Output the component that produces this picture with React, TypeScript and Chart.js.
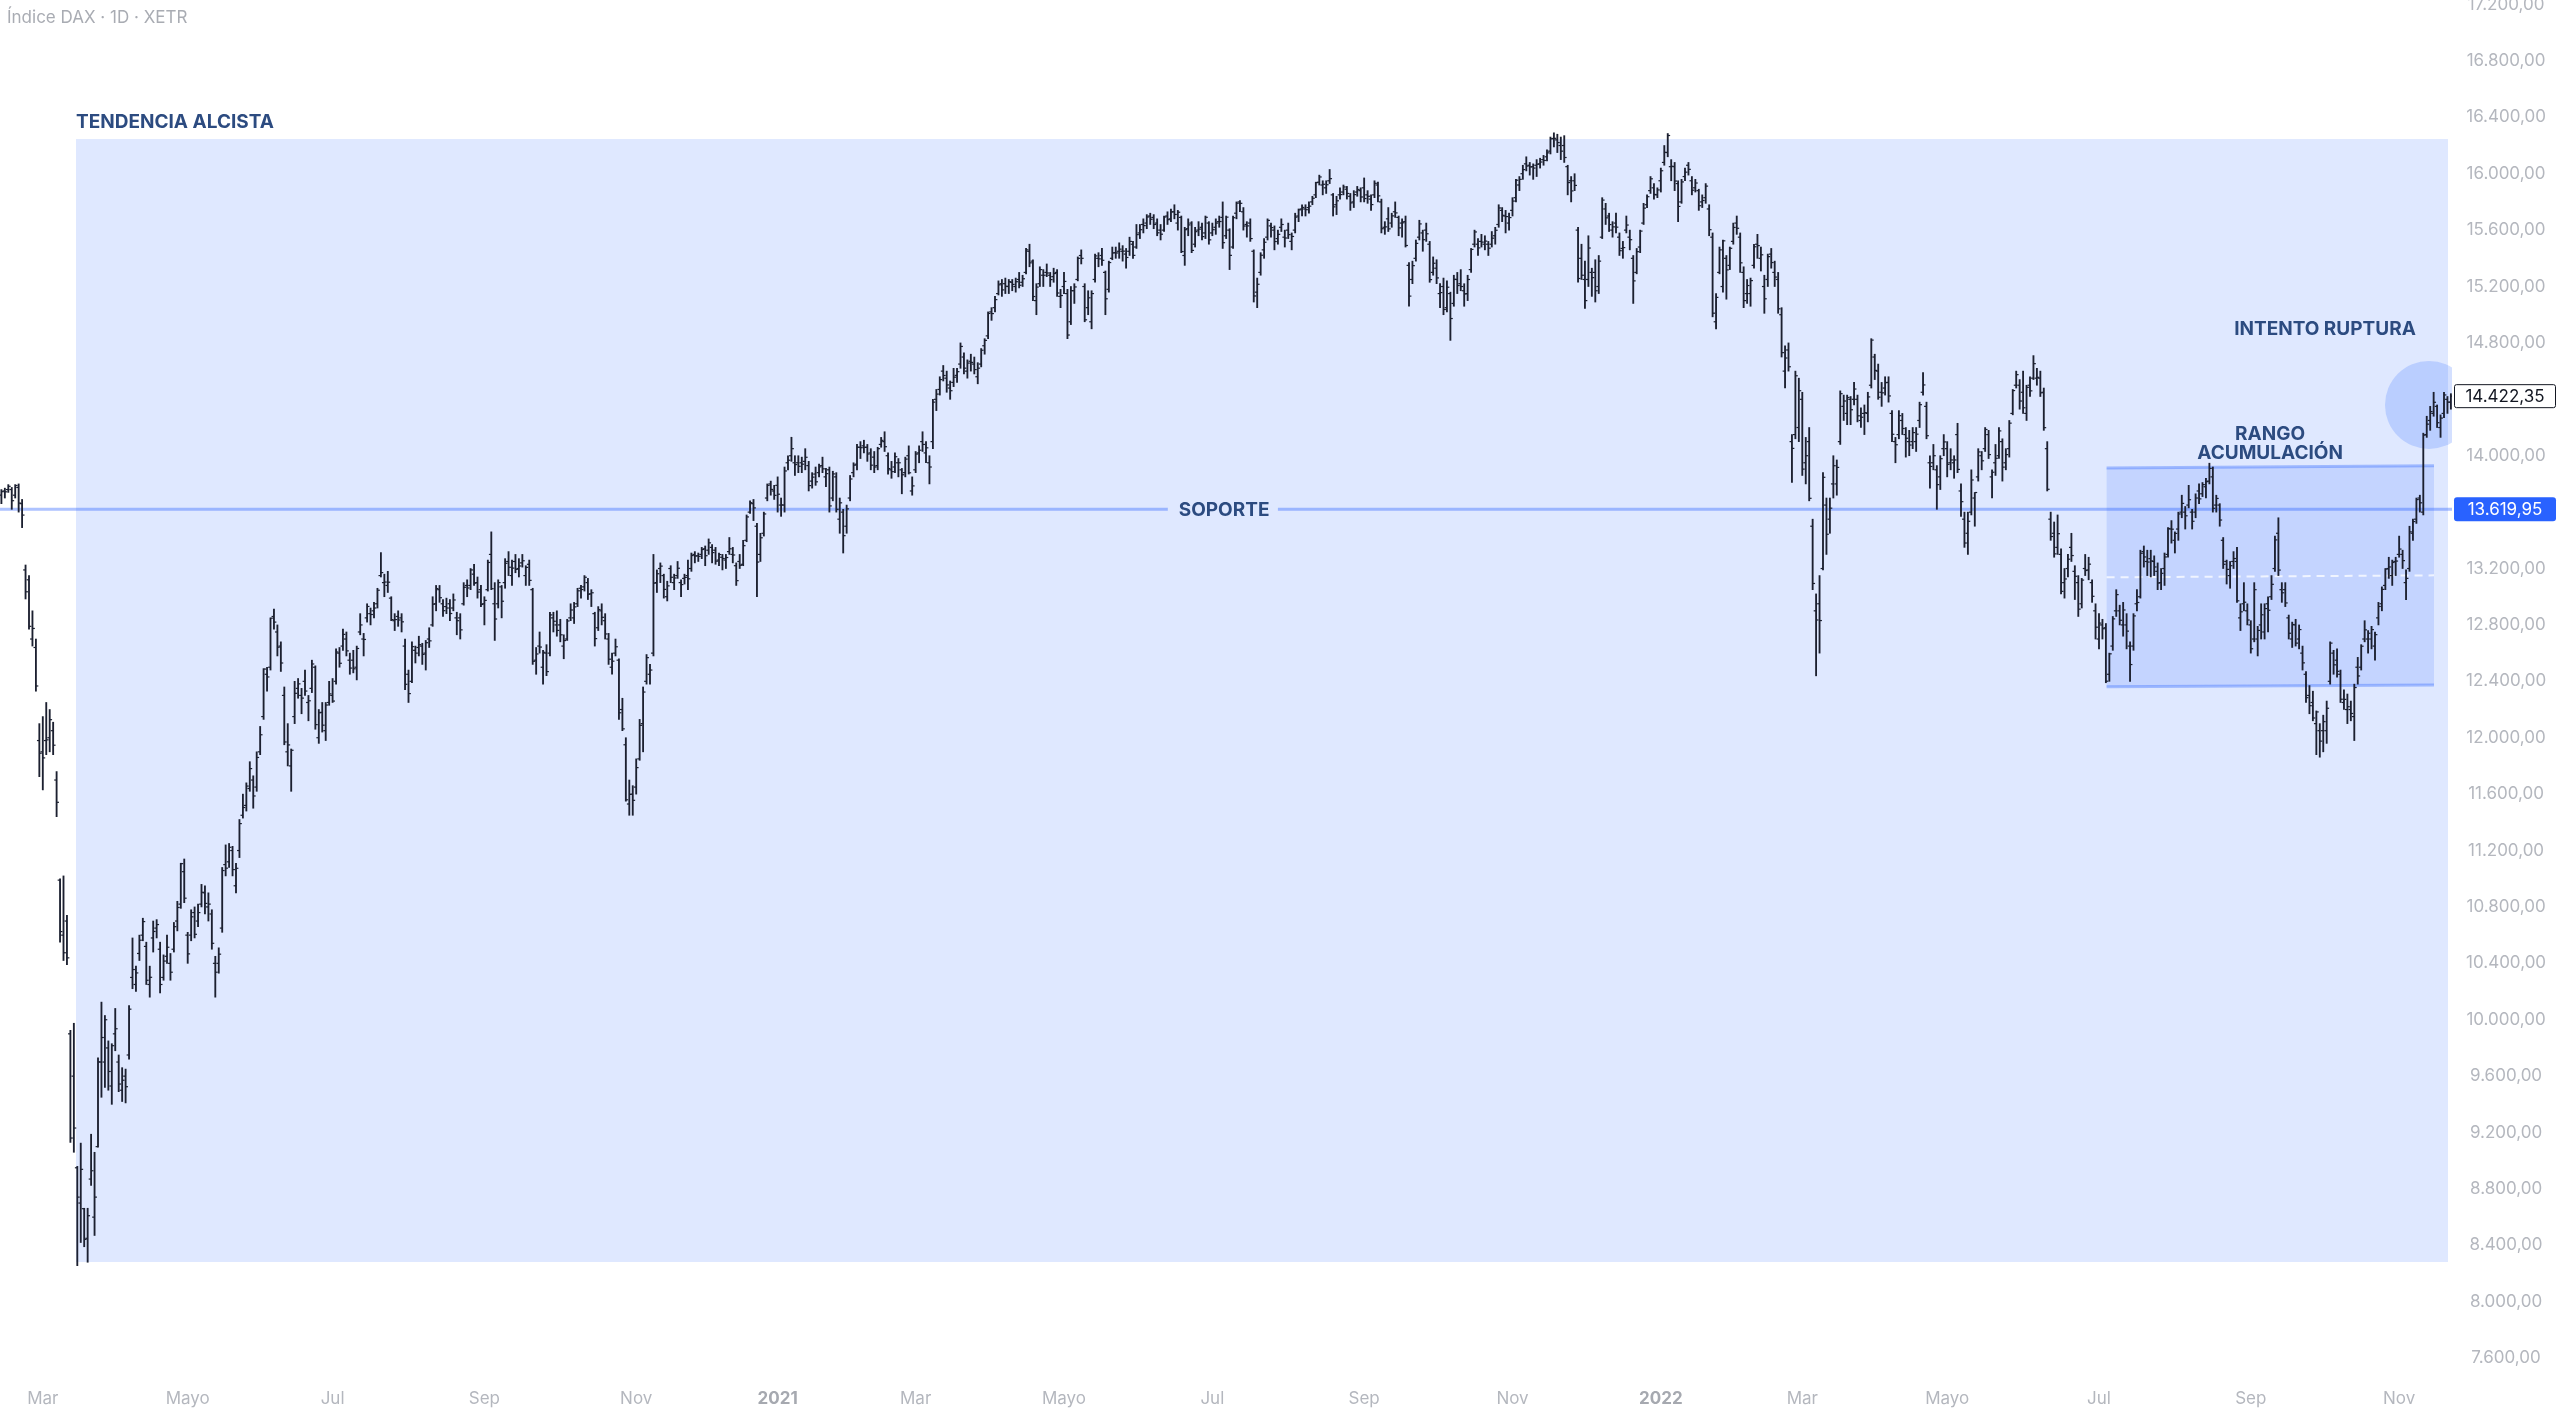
import React, { useEffect, useRef } from 'react';
import { Chart, registerables } from 'chart.js';

Chart.register(...registerables);

// ---------- DATA (DAX daily, Feb 13 2020 – Nov 22 2022) ----------
const o20 = [
  13720,13750,13760,13760,13720,13775,13660,13190,13120,12700,12640,11980,
  11900,11980,12000,12050,11700,10990,10600,10700,9900,9600,8950,8700,8660,8450,8870,8600,9100,9700,9700,9800,9530,9900,
  9700,9500,9600,9750,10300,10250,10470,10600,10520,10250,10580,10650,10500,10300,10450,10400,10500,10700,10820,11050,
  10600,10600,10760,10700,10820,10900,10800,10750,10400,10400,10650,11100,11120,11200,10950,11200,11450,11520,11640,11700,
  11650,11900,12150,12450,12500,12860,12750,12650,12300,11900,11800,12150,12350,12300,12400,12250,12350,12500,12000,12180,12050,12250,
  12300,12400,12600,12650,12700,12550,12550,12500,12750,12700,12850,12880,12900,12950,13150,13100,13080,12990,12830,12860,12850,12650,12450,
  12400,12620,12640,12650,12600,12700,12800,12950,13050,12950,12930,12950,12920,12850,12850,12950,13080,13080,13160,13100,13050,
  12950,13050,13300,12950,12950,13070,13100,13250,13150,13250,13200,13240,13150,13230,13050,12550,12650,12500,12600,12600,12850,12800,
  12800,12650,12700,12850,12850,12950,13060,13070,13100,13020,12880,12780,12900,12830,12700,12500,12600,12550,12200,11950,11530,11600,
  11650,11850,12100,12400,12450,12600,13100,13200,13150,13000,13200,13100,13150,13100,13130,13150,13200,13300,13290,13300,13340,
  13330,13350,13330,13260,13280,13260,13320,13300,13220,13250,13230,13400,13600,13660,13500,13300,13450,13700,13800,13750,
];
const h20 = [
  13760,13770,13795,13775,13795,13800,13690,13225,13150,12900,12700,12100,
  12150,12250,12200,12110,11760,11000,11020,10740,9925,9975,8960,9125,8663,8663,9188,9060,9730,10125,10030,9850,9830,10080,
  9750,9660,9650,10100,10580,10380,10600,10720,10550,10380,10700,10710,10550,10460,10600,10470,10690,10840,11110,11140,
  10620,10780,10800,10820,10960,10950,10900,10780,10450,10510,11080,11240,11250,11230,11110,11420,11600,11680,11830,11730,
  11900,12080,12490,12500,12850,12913,12800,12680,12360,12100,11920,12400,12420,12350,12480,12300,12550,12510,12200,12250,12250,12400,
  12420,12630,12640,12770,12750,12600,12620,12650,12880,12740,12950,12920,12960,13060,13313,13160,13180,13000,12880,12900,12880,12700,12480,
  12680,12650,12720,12670,12690,12780,13000,13080,13080,12980,12990,12980,13020,12890,12880,13100,13120,13200,13230,13140,13080,
  13000,13260,13460,13100,13120,13080,13270,13320,13260,13300,13270,13300,13220,13260,13060,12640,12750,12620,12660,12890,12890,12900,
  12840,12730,12840,12950,12960,13060,13080,13150,13130,13050,12890,12930,12950,12880,12740,12600,12700,12560,12280,12000,11700,11660,
  11850,12130,12360,12590,12520,13300,13190,13240,13160,13110,13220,13160,13250,13120,13160,13260,13310,13320,13310,13350,13360,
  13410,13370,13350,13310,13300,13300,13420,13350,13240,13300,13400,13580,13680,13690,13520,13450,13600,13800,13820,13790,
];
const l20 = [
  13660,13700,13740,13620,13700,13600,13490,12984,12770,12650,12330,11724,
  11630,11880,11900,11880,11440,10550,10420,10390,9130,9060,8256,8420,8390,8280,8825,8470,9097,9450,9520,9500,9400,9780,
  9490,9420,9410,9720,10220,10200,10420,10560,10250,10160,10480,10580,10190,10280,10400,10280,10480,10630,10790,10830,
  10400,10560,10580,10660,10800,10750,10700,10500,10160,10330,10620,11020,11080,11020,10900,11150,11430,11480,11620,11500,
  11620,11880,12130,12330,12480,12770,12580,12470,11950,11800,11620,12100,12280,12170,12300,12120,12320,12060,11960,12040,11980,12230,
  12250,12380,12500,12620,12580,12450,12460,12410,12730,12580,12820,12800,12850,12920,13140,13000,13030,12830,12760,12790,12750,12340,12250,
  12390,12530,12580,12520,12480,12640,12790,12900,12960,12860,12880,12830,12900,12730,12700,12940,13000,13050,13080,12990,12930,
  12800,13040,13050,12690,12920,12850,13060,13150,13080,13170,13140,13210,13080,13080,12520,12450,12600,12380,12440,12580,12750,12720,
  12680,12560,12690,12830,12810,12930,12990,13040,12980,12930,12650,12760,12800,12700,12520,12450,12580,12130,12050,11550,11450,11450,
  11600,11840,11900,12380,12380,12580,13030,13100,12990,12970,13100,13050,13130,13000,13090,13050,13180,13240,13250,13270,13220,
  13300,13240,13230,13220,13190,13200,13300,13240,13080,13200,13220,13390,13590,13540,13000,13250,13430,13680,13720,13690,
];
const c20 = [
  13745,13744,13783,13681,13789,13664,13579,13035,12790,12775,12367,11890,
  11857,11985,12128,11947,11542,10625,10475,10439,9161,9232,8742,8939,8442,8610,8929,8742,9701,9874,10000,9633,9816,9936,
  9544,9571,9525,10075,10356,10332,10564,10696,10280,10301,10626,10675,10250,10416,10514,10337,10660,10796,11107,10862,
  10467,10730,10606,10760,10904,10825,10820,10542,10337,10465,11058,11075,11223,11065,11074,11391,11505,11657,11781,11587,
  11860,12021,12487,12431,12848,12820,12642,12530,11970,11949,11911,12315,12382,12281,12331,12262,12523,12093,12177,12089,12232,12311,
  12260,12608,12528,12733,12616,12494,12489,12633,12800,12697,12931,12874,12920,13046,13171,13104,13103,12838,12838,12835,12822,12379,12313,
  12646,12600,12660,12591,12674,12687,12947,13058,12993,12901,12920,12881,12977,12830,12765,13067,13062,13190,13096,13033,12945,
  12974,13243,13057,12842,13100,12968,13237,13209,13203,13194,13218,13255,13208,13116,12542,12594,12643,12606,12469,12871,12826,12761,
  12730,12689,12828,12906,12928,13042,13051,13138,13018,13028,12703,12909,12854,12736,12557,12543,12645,12177,12063,11560,11598,11556,
  11788,12088,12324,12568,12480,13096,13163,13217,13052,13077,13138,13133,13202,13086,13137,13127,13292,13289,13286,13335,13291,
  13382,13313,13252,13299,13271,13278,13340,13296,13114,13223,13362,13566,13667,13630,13246,13418,13587,13790,13761,13719,
];

const o21 = [
  13790,13650,13650,13950,14000,13950,13950,13950,13960,13930,13820,13870,13880,13930,13850,13900,13700,13850,13550,13600,
  13500,13700,13880,13940,14060,14070,14060,14020,13990,13930,14080,14100,14000,13900,13920,13950,13900,13880,14000,13750,
  13900,14020,14100,14020,13950,14100,14400,14470,14600,14550,14480,14520,14570,14650,14700,14600,14670,14650,14560,14650,14780,14850,15020,
  15050,15150,15220,15220,15200,15230,15200,15250,15230,15300,15450,15380,15100,15220,15280,15300,15280,15270,15300,15130,
  15200,15150,14950,15170,15250,15420,15200,15050,14950,15250,15400,15420,15300,15180,15400,15440,15450,15450,15430,15450,15500,
  15480,15580,15640,15650,15700,15690,15650,15600,15600,15700,15680,15730,15650,15690,15420,15610,15650,15500,15600,15620,15580,15650,
  15580,15620,15660,15690,15560,15600,15480,15720,15800,15730,15640,15650,15450,15160,15300,15460,15550,15630,15600,15540,15620,15550,
  15600,15520,15600,15700,15750,15750,15760,15800,15850,15940,15920,15900,15950,15850,15780,15850,15870,15890,15840,15800,15870,15880,
  15900,15850,15820,15850,15920,15800,15620,15680,15650,15730,15690,15650,15660,15350,15250,15400,15550,15580,15600,15500,15300,15330,
  15150,15200,15050,15150,15080,15250,15220,15170,15150,15320,15500,15500,15520,15500,15500,15500,15560,15640,15740,15700,15650,
  15740,15830,15920,16000,16070,16060,16050,16060,16070,16100,16120,16160,16250,16240,16200,16200,16050,15950,15950,15600,15400,15250,
  15250,15300,15300,15200,15550,15750,15700,15600,15650,15550,15470,15600,15550,15400,15300,15480,15650,15780,15880,15900,15850,
];
const h21 = [
  13850,13700,13920,14000,14131,14000,14000,13990,14050,13960,13880,13920,13940,13990,13910,13920,13890,13880,13700,13620,
  13650,13860,13950,14080,14100,14110,14080,14050,14030,14060,14130,14170,14020,13960,14020,13980,13910,13990,14070,13850,
  14030,14070,14170,14100,14000,14400,14470,14560,14640,14600,14530,14620,14620,14800,14730,14680,14720,14700,14660,14760,14830,15020,15050,
  15130,15240,15250,15260,15250,15250,15260,15300,15280,15470,15500,15390,15220,15340,15320,15360,15300,15330,15320,15180,
  15300,15180,15200,15220,15410,15460,15220,15170,15170,15430,15440,15470,15310,15380,15480,15480,15510,15490,15470,15550,15520,
  15640,15640,15680,15710,15720,15710,15680,15640,15700,15730,15750,15780,15740,15700,15620,15680,15660,15620,15660,15650,15700,15660,
  15650,15680,15700,15800,15700,15610,15700,15800,15810,15760,15660,15680,15460,15260,15440,15540,15680,15650,15630,15600,15680,15600,
  15650,15580,15720,15750,15780,15780,15800,15840,15940,15990,15950,15950,16030,15860,15840,15900,15920,15910,15860,15880,15910,15900,
  15970,15880,15850,15950,15940,15820,15660,15760,15720,15800,15700,15680,15700,15370,15380,15530,15670,15600,15650,15520,15410,15390,
  15220,15260,15240,15160,15280,15300,15320,15220,15280,15470,15600,15540,15570,15560,15520,15590,15620,15780,15760,15740,15720,
  15830,15960,15980,16060,16120,16080,16070,16100,16110,16130,16170,16260,16290,16280,16260,16270,16060,15980,16000,15620,15500,15380,
  15560,15330,15390,15420,15830,15790,15720,15660,15720,15580,15520,15700,15600,15420,15470,15600,15790,15850,15980,15930,15900,
];
const l21 = [
  13600,13570,13600,13900,13960,13860,13880,13880,13900,13750,13770,13790,13850,13880,13780,13600,13680,13600,13450,13310,
  13450,13680,13850,13900,13980,14020,13960,13900,13880,13900,14060,14030,13870,13840,13880,13850,13730,13850,13870,13720,
  13880,13950,14030,13950,13800,14050,14320,14430,14530,14450,14400,14490,14520,14620,14580,14550,14600,14580,14510,14630,14720,14830,14960,
  15020,15140,15130,15150,15150,15170,15160,15190,15200,15290,15340,15100,15000,15200,15200,15270,15200,15230,15130,15050,
  15150,14830,14930,15080,15240,15360,14950,15000,14900,15230,15340,15350,15000,15160,15390,15400,15400,15380,15330,15420,15400,
  15470,15540,15580,15610,15640,15610,15560,15530,15590,15640,15660,15680,15600,15440,15350,15560,15440,15480,15560,15530,15540,15500,
  15560,15570,15620,15470,15540,15320,15470,15680,15730,15600,15550,15520,15090,15050,15280,15400,15530,15550,15460,15500,15590,15480,
  15540,15460,15580,15660,15700,15700,15720,15780,15830,15920,15850,15860,15930,15700,15710,15820,15850,15820,15740,15760,15840,15800,
  15800,15790,15740,15830,15800,15580,15570,15590,15620,15690,15560,15550,15480,15060,15220,15380,15530,15450,15520,15230,15280,15220,
  15050,15000,15020,14818,15060,15150,15170,15060,15100,15300,15480,15420,15480,15460,15420,15480,15500,15620,15660,15580,15600,
  15700,15800,15880,15960,16020,15990,15960,15980,16040,16060,16090,16140,16190,16150,16100,16080,15850,15800,15880,15230,15250,15045,
  15200,15130,15090,15150,15540,15640,15590,15550,15580,15420,15400,15580,15460,15080,15290,15440,15640,15760,15860,15820,15830,
];
const c21 = [
  13727,13651,13892,13968,14050,13937,13925,13940,13989,13788,13848,13815,13921,13907,13873,13644,13871,13620,13666,13433,
  13623,13835,13933,14060,14057,14059,14012,13933,13920,14050,14109,14064,13909,13887,13993,13950,13865,13976,13879,13786,
  14012,14039,14080,14056,13920,14380,14437,14540,14569,14502,14461,14557,14596,14775,14621,14657,14662,14611,14621,14748,14818,15009,15008,
  15107,15212,15176,15202,15234,15215,15234,15209,15255,15460,15368,15129,15196,15320,15280,15296,15249,15292,15154,15136,
  15236,14856,15171,15197,15400,15400,14964,15120,15150,15417,15396,15386,15113,15370,15438,15438,15465,15451,15406,15520,15421,
  15568,15603,15632,15693,15677,15640,15581,15571,15693,15674,15729,15711,15727,15448,15603,15637,15456,15589,15607,15554,15691,15531,
  15603,15650,15661,15511,15692,15421,15688,15791,15790,15629,15630,15540,15133,15216,15422,15514,15669,15618,15519,15570,15640,15544,
  15568,15555,15692,15744,15761,15745,15770,15826,15937,15977,15925,15922,15965,15765,15808,15852,15906,15860,15793,15852,15888,15835,
  15824,15840,15781,15932,15843,15610,15623,15609,15701,15722,15616,15652,15491,15132,15348,15506,15644,15532,15574,15249,15365,15261,
  15157,15037,15195,14973,15251,15207,15200,15147,15250,15463,15587,15474,15515,15522,15472,15543,15599,15757,15705,15696,15689,
  15806,15954,15960,16029,16054,16048,16040,16067,16083,16094,16148,16247,16251,16221,16160,16115,15937,15878,15917,15257,15280,15100,
  15473,15263,15170,15380,15813,15687,15639,15623,15621,15454,15476,15636,15532,15240,15447,15593,15756,15837,15964,15853,15885,
];

const o22 = [
  15950,16080,16150,16050,16050,15930,15800,15980,16060,15950,15900,15880,15800,15830,15750,15550,14950,15300,15200,15400,15350,
  15520,15650,15550,15300,15150,15150,15350,15500,15400,15200,15250,15430,15300,15250,15000,14600,14750,14100,14150,14200,
  14400,13950,14100,13500,12900,12950,13200,13650,13550,13800,13800,14100,14350,14300,14400,14400,14400,14250,14300,14300,14500,14700,14600,
  14450,14480,14520,14300,14100,14150,14250,14150,14100,14100,14100,14250,14450,14350,13950,13950,13900,13850,14050,
  14050,13950,13950,14150,13750,13550,13450,13600,13700,13850,14000,14050,14150,13850,13950,14000,14100,13950,14050,14300,14500,14500,
  14450,14300,14500,14550,14550,14550,14450,14050,13550,13450,13350,13300,13100,13200,13350,13180,13100,12950,13200,13190,13100,12900,
  12700,12800,12780,12450,12650,12900,12900,12800,12800,12650,12650,12950,13000,13320,13250,13270,13250,13180,13100,13200,13300,
  13480,13400,13480,13600,13600,13650,13600,13600,13750,13730,13780,13820,13850,13650,13650,13400,13250,13150,13250,13250,12850,12950,12900,
  12800,12700,12700,12800,12750,12950,13000,13200,13450,13050,13050,12850,12700,12800,12700,12600,12450,12300,12250,12100,12050,12050,
  12050,12400,12600,12550,12450,12250,12200,12200,12150,12500,12500,12700,12700,12700,12650,12850,12950,13080,13200,13150,13250,
  13300,13300,13100,13200,13450,13550,13700,13600,14150,14250,14300,14350,14200,14300,14400,14380,
];
const h22 = [
  16040,16200,16285,16100,16080,15950,15960,16040,16080,15980,15960,15890,15850,15930,15780,15580,15150,15480,15530,15420,15480,
  15650,15700,15580,15340,15250,15260,15500,15570,15480,15280,15430,15470,15380,15300,15050,14780,14800,14150,14600,14550,
  14450,14130,14200,13550,13020,13150,13880,13700,13700,14000,13970,14460,14430,14430,14420,14520,14430,14340,14360,14450,14830,14720,14650,
  14520,14560,14560,14320,14130,14320,14300,14200,14180,14200,14200,14380,14590,14380,14000,14080,13930,14000,14150,
  14100,14050,14000,14230,13800,13600,13600,13900,13720,14050,14030,14200,14180,13900,14080,14200,14120,14050,14250,14470,14600,14540,
  14600,14500,14560,14710,14620,14600,14480,14100,13600,13530,13580,13340,13200,13300,13450,13220,13150,13130,13300,13280,13120,12950,
  12880,12840,12810,12600,12860,13050,12940,12960,12880,12680,12880,13050,13330,13360,13330,13330,13290,13240,13200,13310,13490,
  13540,13460,13600,13720,13640,13790,13620,13730,13800,13810,13840,13947,13920,13720,13660,13420,13260,13250,13320,13350,12950,13100,12950,
  12830,13100,12790,12950,12950,13000,13150,13430,13560,13100,13100,12870,12820,12840,12800,12650,12470,12370,12330,12190,12100,12160,
  12260,12680,12620,12630,12480,12340,12310,12260,12380,12570,12660,12830,12760,12790,12750,12960,13070,13200,13280,13260,13280,
  13430,13330,13190,13500,13550,13700,13720,14160,14280,14350,14450,14360,14290,14450,14420,14440,
];
const l22 = [
  15870,16060,16120,15950,15880,15660,15790,15950,15990,15850,15870,15740,15760,15790,15560,14985,14900,15290,15160,15110,15320,
  15500,15570,15300,15050,15080,15060,15330,15400,15310,15010,15200,15330,15200,15010,14700,14480,14600,13810,14120,14100,
  13860,13800,13680,13050,12439,12600,13190,13300,13450,13700,13720,14080,14250,14220,14220,14360,14240,14200,14150,14240,14480,14540,14400,
  14350,14430,14380,14100,13950,14120,14150,13990,14000,14050,14030,14200,14430,14120,13770,13900,13620,13760,14000,
  13850,13900,13840,13880,13570,13350,13300,13580,13500,13820,13900,14030,13980,13700,13860,13980,13820,13900,13990,14290,14480,14330,
  14300,14250,14420,14540,14500,14420,14180,13750,13400,13280,13300,13020,12990,13140,13250,12980,12860,12920,13150,13120,12960,12700,
  12630,12700,12390,12400,12620,12860,12800,12720,12630,12400,12620,12900,12990,13210,13150,13140,13150,13050,13050,13080,13280,
  13380,13310,13400,13560,13480,13630,13480,13560,13660,13710,13700,13800,13600,13600,13500,13200,13090,13060,13200,12960,12760,12900,12800,
  12600,12680,12580,12700,12700,12750,12980,13180,13150,12960,12930,12700,12640,12650,12630,12480,12250,12170,12120,11880,11862,11900,
  11960,12380,12450,12430,12250,12200,12100,12120,11980,12380,12480,12680,12600,12630,12550,12800,12900,13050,13130,13080,13150,
  13280,13200,12980,13180,13400,13520,13600,13580,14130,14180,14280,14200,14130,14270,14300,14330,
];
const c22 = [
  16021,16152,16271,16053,15948,15768,15942,16011,16031,15883,15934,15773,15810,15912,15603,15011,15123,15460,15524,15318,15471,
  15619,15613,15368,15100,15207,15242,15482,15490,15425,15113,15412,15370,15267,15042,14731,14693,14631,14052,14567,14461,
  13905,14000,13698,13094,12835,12831,13847,13443,13628,13929,13917,14440,14388,14413,14326,14473,14283,14273,14306,14417,14820,14605,14415,
  14446,14518,14424,14152,14078,14284,14193,14124,14076,14164,14153,14362,14502,14142,13924,14000,13795,13979,14098,
  13939,13970,13970,13903,13674,13381,13535,13828,13739,14027,13964,14186,14008,13883,13982,14176,13919,14008,14231,14462,14575,14388,
  14340,14485,14460,14653,14556,14446,14199,13762,13427,13304,13447,13038,13126,13266,13292,13145,12912,13118,13186,13231,13003,12784,
  12813,12773,12401,12595,12843,13015,12833,12906,12756,12519,12864,12959,13308,13282,13246,13254,13211,13097,13166,13282,13484,
  13479,13449,13587,13662,13574,13688,13535,13700,13694,13795,13816,13910,13627,13697,13544,13230,13194,13220,13271,12971,12893,12961,12835,
  12631,13050,12761,12872,12916,12904,13088,13403,13189,13028,12956,12741,12803,12671,12767,12531,12284,12227,12140,12183,11976,12114,
  12209,12671,12517,12471,12273,12272,12220,12172,12356,12438,12649,12765,12741,12767,12731,12931,13052,13196,13211,13243,13253,
  13338,13256,13130,13460,13533,13689,13666,14146,14224,14313,14379,14234,14267,14431,14380,14422.35,
];

// x-axis: bar index of the first session of each labelled month
const monthTickIndex = [12, 54, 96, 140, 184, 225, 265, 308, 351, 395, 438, 481, 522, 564, 608, 652, 695];
const monthTickLabels = ['Mar', 'Mayo', 'Jul', 'Sep', 'Nov', '2021', 'Mar', 'Mayo', 'Jul', 'Sep', 'Nov', '2022', 'Mar', 'Mayo', 'Jul', 'Sep', 'Nov'];
const priceTicks = [7600, 8000, 8400, 8800, 9200, 9600, 10000, 10400, 10800, 11200, 11600, 12000, 12400, 12800, 13200, 13600, 14000, 14400, 14800, 15200, 15600, 16000, 16400, 16800, 17200];

// drawings (in bar-index / price units)
const supportPrice = 13619.95;
const lastPrice = 14422.35;
const trendZone = { x0: 21.62, x1: 709.16, top: 16246, bottom: 8282 };
const rangeChannel = { x0: 610.2, x1: 705.1, top0: 13913, top1: 13929, bot0: 12362, bot1: 12374 };
const breakoutCircle = { x: 703.65, y: 14360 };
const soporteGap = { x0: 338.1, x1: 370.0, x: 354.4 };
const labelTrend = { x: 21.62, y: 16324 };
const labelIntento = { x: 673.5, y: 14856 };
const labelRango = { x: 657.6, y1: 14111, y2: 13977 };

// ---------- helpers ----------
const opens = [...o20, ...o21, ...o22];
const highs = [...h20, ...h21, ...h22];
const lows = [...l20, ...l21, ...l22];
const closes = [...c20, ...c21, ...c22];
const N = Math.min(opens.length, highs.length, lows.length, closes.length);

function fmtPrice(v: number): string {
  const [i, d] = v.toFixed(2).split('.');
  return i.replace(/\B(?=(\d{3})+(?!\d))/g, '.') + ',' + d;
}

const FONT = 'Inter, "Noto Sans", sans-serif';
const BAR_COLOR = '#1c2030';
const TEXT_BLUE = '#2c4b80';
const AXIS_GRAY = '#b4b7be';

const drawingsPlugin = {
  id: 'drawings',
  beforeDatasetsDraw(chart: any) {
    const { ctx, chartArea: a, scales } = chart;
    const x = scales.x, y = scales.y;
    ctx.save();
    ctx.beginPath();
    ctx.rect(a.left, a.top, a.right - a.left, a.bottom - a.top);
    ctx.clip();

    // trend zone
    const tx0 = x.getPixelForValue(trendZone.x0), tx1 = x.getPixelForValue(trendZone.x1);
    const ty0 = y.getPixelForValue(trendZone.top), ty1 = y.getPixelForValue(trendZone.bottom);
    ctx.fillStyle = 'rgba(41,98,255,0.15)';
    ctx.fillRect(tx0, ty0, tx1 - tx0, ty1 - ty0);

    // range channel
    const cx0 = x.getPixelForValue(rangeChannel.x0), cx1 = x.getPixelForValue(rangeChannel.x1);
    const t0 = y.getPixelForValue(rangeChannel.top0), t1 = y.getPixelForValue(rangeChannel.top1);
    const b0 = y.getPixelForValue(rangeChannel.bot0), b1 = y.getPixelForValue(rangeChannel.bot1);
    ctx.fillStyle = 'rgba(41,98,255,0.15)';
    ctx.beginPath();
    ctx.moveTo(cx0, t0); ctx.lineTo(cx1, t1); ctx.lineTo(cx1, b1); ctx.lineTo(cx0, b0); ctx.closePath();
    ctx.fill();
    ctx.strokeStyle = 'rgba(41,98,255,0.35)';
    ctx.lineWidth = 3;
    ctx.beginPath();
    ctx.moveTo(cx0, t0); ctx.lineTo(cx1, t1);
    ctx.moveTo(cx0, b0); ctx.lineTo(cx1, b1);
    ctx.stroke();
    ctx.strokeStyle = 'rgba(255,255,255,0.75)';
    ctx.lineWidth = 2;
    ctx.setLineDash([8, 6]);
    ctx.beginPath();
    ctx.moveTo(cx0, (t0 + b0) / 2); ctx.lineTo(cx1, (t1 + b1) / 2);
    ctx.stroke();
    ctx.setLineDash([]);

    // support line
    const sy = y.getPixelForValue(supportPrice);
    ctx.strokeStyle = 'rgba(41,98,255,0.38)';
    ctx.lineWidth = 3;
    ctx.beginPath();
    ctx.moveTo(a.left, sy); ctx.lineTo(x.getPixelForValue(soporteGap.x0), sy);
    ctx.moveTo(x.getPixelForValue(soporteGap.x1), sy); ctx.lineTo(a.right, sy);
    ctx.stroke();

    // circle
    ctx.fillStyle = 'rgba(41,98,255,0.2)';
    ctx.beginPath();
    ctx.arc(x.getPixelForValue(breakoutCircle.x), y.getPixelForValue(breakoutCircle.y), 44, 0, Math.PI * 2);
    ctx.fill();
    ctx.restore();
  },
  afterDatasetsDraw(chart: any) {
    const { ctx, scales } = chart;
    const x = scales.x, y = scales.y;
    ctx.save();
    ctx.fillStyle = TEXT_BLUE;
    ctx.font = `bold 19px ${FONT}`;
    ctx.textBaseline = 'alphabetic';
    ctx.textAlign = 'left';
    ctx.fillText('TENDENCIA ALCISTA', x.getPixelForValue(labelTrend.x), y.getPixelForValue(labelTrend.y));
    ctx.textAlign = 'center';
    ctx.fillText('INTENTO RUPTURA', x.getPixelForValue(labelIntento.x), y.getPixelForValue(labelIntento.y));
    ctx.fillText('RANGO', x.getPixelForValue(labelRango.x), y.getPixelForValue(labelRango.y1));
    ctx.fillText('ACUMULACIÓN', x.getPixelForValue(labelRango.x), y.getPixelForValue(labelRango.y2));
    ctx.textBaseline = 'middle';
    ctx.fillText('SOPORTE', x.getPixelForValue(soporteGap.x), y.getPixelForValue(supportPrice) + 1);
    ctx.restore();
  },
  afterDraw(chart: any) {
    const { ctx, scales } = chart;
    const y = scales.y;
    ctx.save();
    // header
    ctx.font = `17px ${FONT}`;
    ctx.fillStyle = '#a9acb3';
    ctx.textAlign = 'left';
    ctx.textBaseline = 'alphabetic';
    ctx.fillText('Índice DAX · 1D · XETR', 7, 23);

    const boxX = 2454, boxW = 102, boxH = 24;
    // support price label
    const sy = y.getPixelForValue(supportPrice);
    ctx.fillStyle = '#2962ff';
    ctx.beginPath();
    (ctx as any).roundRect ? (ctx as any).roundRect(boxX, sy - boxH / 2, boxW, boxH, 3) : ctx.rect(boxX, sy - boxH / 2, boxW, boxH);
    ctx.fill();
    ctx.fillStyle = '#ffffff';
    ctx.font = `17px ${FONT}`;
    ctx.textAlign = 'center';
    ctx.textBaseline = 'middle';
    ctx.fillText(fmtPrice(supportPrice), boxX + boxW / 2, sy + 1);

    // last price label
    const ly = y.getPixelForValue(lastPrice);
    ctx.fillStyle = '#ffffff';
    ctx.fillRect(boxX + 0.5, ly - boxH / 2 + 0.5, boxW - 1, boxH - 1);
    ctx.strokeStyle = '#131722';
    ctx.lineWidth = 1;
    ctx.beginPath();
    (ctx as any).roundRect ? (ctx as any).roundRect(boxX + 0.5, ly - boxH / 2 + 0.5, boxW - 1, boxH - 1, 2) : ctx.rect(boxX + 0.5, ly - boxH / 2 + 0.5, boxW - 1, boxH - 1);
    ctx.stroke();
    ctx.fillStyle = '#131722';
    ctx.fillText(fmtPrice(lastPrice), boxX + boxW / 2, ly + 1);
    ctx.restore();
  },
};

export default function App() {
  const ref = useRef<HTMLCanvasElement | null>(null);

  useEffect(() => {
    document.body.style.margin = '0';
    document.body.style.overflow = 'hidden';
    document.body.style.background = '#ffffff';
    if (!ref.current) return;

    const wickData: any[] = [];
    const openData: any[] = [];
    const closeData: any[] = [];
    for (let i = 0; i < N; i++) {
      const o = opens[i], h = highs[i], l = lows[i], c = closes[i];
      wickData.push({ x: i, y: [Math.min(l, o, c), Math.max(h, o, c)] });
      openData.push({ x: i, y: o });
      closeData.push({ x: i, y: c });
    }

    const chart = new Chart(ref.current, {
      type: 'bar',
      data: {
        datasets: [
          {
            type: 'bar',
            data: wickData,
            backgroundColor: BAR_COLOR,
            borderWidth: 0,
            barThickness: 1.2,
            grouped: false,
          } as any,
          {
            type: 'line',
            data: openData,
            showLine: false,
            pointStyle: 'dash',
            pointRadius: 2.4,
            pointRotation: 180,
            pointBorderColor: BAR_COLOR,
            pointBackgroundColor: BAR_COLOR,
            pointBorderWidth: 1.2,
            pointHoverRadius: 0,
          } as any,
          {
            type: 'line',
            data: closeData,
            showLine: false,
            pointStyle: 'dash',
            pointRadius: 2.4,
            pointRotation: 0,
            pointBorderColor: BAR_COLOR,
            pointBackgroundColor: BAR_COLOR,
            pointBorderWidth: 1.2,
            pointHoverRadius: 0,
          } as any,
        ],
      },
      options: {
        responsive: false,
        animation: false,
        devicePixelRatio: 1,
        events: [],
        layout: { padding: 0, autoPadding: false } as any,
        plugins: { legend: { display: false }, tooltip: { enabled: false }, title: { display: false } },
        scales: {
          x: {
            type: 'linear',
            min: -0.406,
            max: 710.32,
            offset: false,
            grid: { display: false, drawTicks: false },
            border: { display: false },
            afterBuildTicks: (s: any) => {
              s.ticks = monthTickIndex.map((v) => ({ value: v }));
            },
            afterFit: (s: any) => {
              s.height = 31;
              s.paddingLeft = 0;
              s.paddingRight = 0;
            },
            ticks: {
              autoSkip: false,
              maxRotation: 0,
              minRotation: 0,
              padding: 9,
              callback: (_v: any, i: number) => monthTickLabels[i],
              color: (c: any) => (/^\d{4}$/.test(monthTickLabels[c.index] || '') ? '#a6a9b0' : AXIS_GRAY),
              font: (c: any) => ({
                family: FONT,
                size: 17,
                weight: /^\d{4}$/.test(monthTickLabels[c.index] || '') ? 'bold' : 'normal',
              }),
            },
          } as any,
          y: {
            type: 'linear',
            position: 'right',
            min: 7445,
            max: 17232,
            grid: { display: false, drawTicks: false },
            border: { display: false },
            afterBuildTicks: (s: any) => {
              s.ticks = priceTicks.map((v) => ({ value: v }));
            },
            afterFit: (s: any) => {
              s.width = 108;
              s.paddingTop = 0;
              s.paddingBottom = 0;
            },
            ticks: {
              autoSkip: false,
              crossAlign: 'center',
              padding: 14,
              color: AXIS_GRAY,
              font: { family: FONT, size: 17 },
              callback: (v: any) => fmtPrice(Number(v)),
            },
          } as any,
        },
      },
      plugins: [drawingsPlugin],
    });

    return () => chart.destroy();
  }, []);

  return (
    <div style={{ width: 2560, height: 1411, background: '#ffffff' }}>
      <canvas ref={ref} width={2560} height={1411} style={{ display: 'block', width: 2560, height: 1411 }} />
    </div>
  );
}
